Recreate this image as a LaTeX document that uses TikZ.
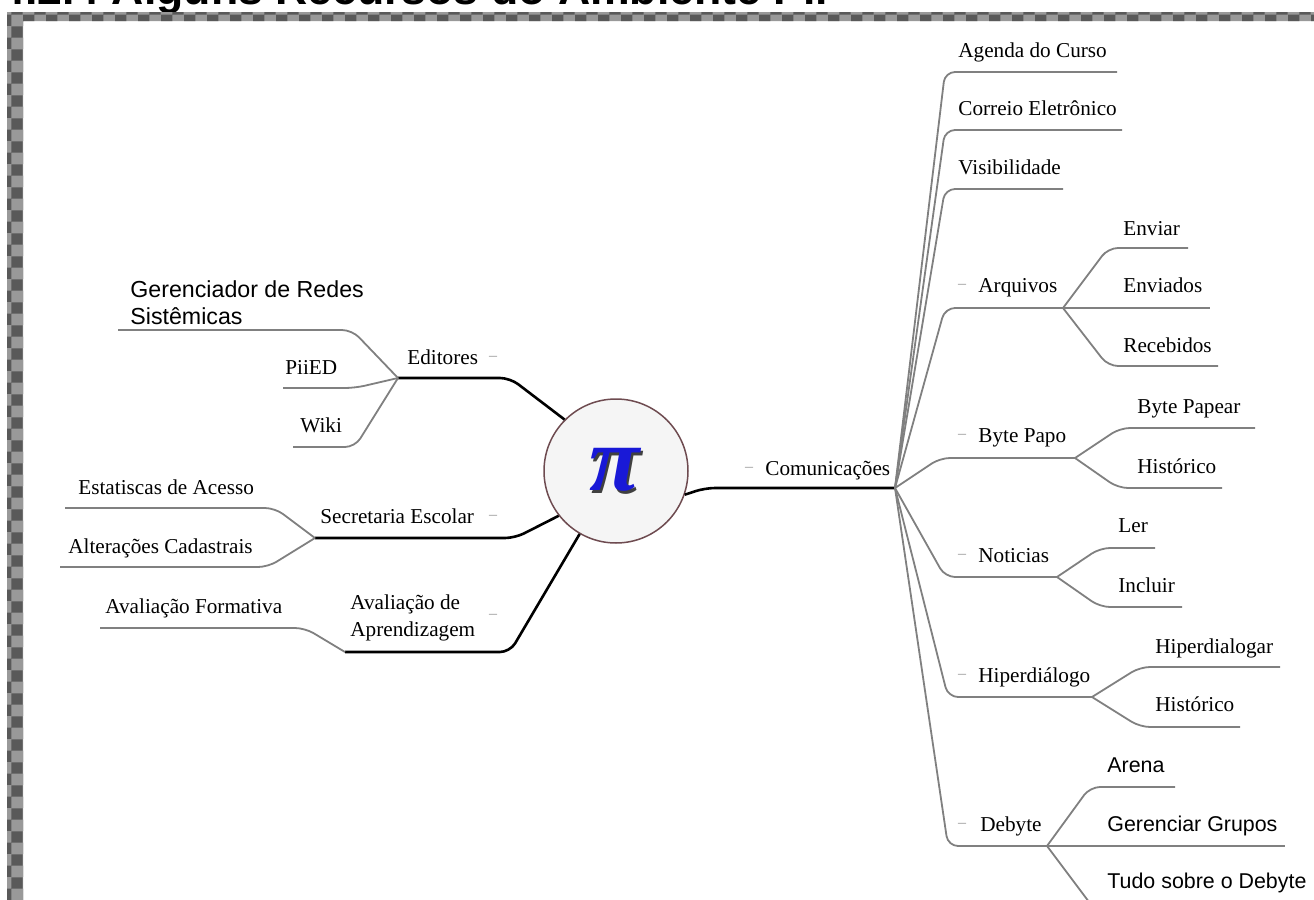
\documentclass[tikz,border=0pt]{standalone}
\usepackage{fontspec}
\setmainfont{Liberation Serif}
\newfontfamily\uisans{Liberation Sans}
\usetikzlibrary{patterns}
\definecolor{piblue}{RGB}{25,25,215}
\definecolor{piborder}{RGB}{110,75,80}
\tikzset{
	x=0.5pt, y=-0.5pt, % one unit is one pixel of the screen shot, y runs down
	mainbranch/.style={line width=1.3pt, black, rounded corners=5pt}, % thick branches at the centre
	subbranch/.style={line width=0.9pt, black!50, rounded corners=5pt}, % thin grey branches
	item/.style={inner sep=0pt, anchor=base west, font=\fontsize{10.6}{13.5}\selectfont}, % serif labels
	sansitem/.style={item, font=\uisans\fontsize{10.7}{13.5}\selectfont}, % the few sans labels
	collapse/.style={inner sep=0pt, anchor=base, yshift=1.8pt, text=gray!80, font=\fontsize{8}{8}\selectfont}, % the little minus signs
	pisign/.style={inner sep=0pt, font=\bfseries\itshape\fontsize{46}{46}\selectfont}, % the big pi
}

\begin{document}
\begin{tikzpicture}
	\useasboundingbox (0,0) rectangle (1314,900);
	\clip (0,0) rectangle (1314,900);

	% title, cut off at the top, and the checkered frame
	\node[inner sep=0pt, anchor=base west, font=\uisans\bfseries\fontsize{22.3}{24}\selectfont] (title) at (0,4) {4.2.4 Alguns Recursos do Ambiente Pii};
	\fill[black!40] (7,12) rectangle (1314,21) (7,21) rectangle (23,900);
	\fill[pattern=checkerboard, pattern color=black!65] (7,12) rectangle (1314,21) (7,21) rectangle (23,900);

	% centre
	\node[circle, draw=piborder, line width=0.75pt, fill=gray!8, minimum size=72pt] (centre) at (616,471) {};
	\node[pisign, text=black!75] (pishadow) at (617,473) {π};
	\node[pisign, text=piblue] (pisym) at (615,470) {π};

	% junctions
	\coordinate (ed) at (398,378);
	\coordinate (se) at (315,538);
	\coordinate (av) at (345,652);
	\coordinate (co) at (895,488);
	\coordinate (arqj) at (1063,308);
	\coordinate (bpj) at (1075,458);
	\coordinate (ntj) at (1057,577);
	\coordinate (hpj) at (1092,697);
	\coordinate (dbj) at (1047,846);

	% left side
	\draw[mainbranch] (centre.135) -- (510,378) -- (ed);
	\draw[mainbranch] (centre.218) -- (515,538) -- (se);
	\draw[mainbranch] (centre.240) -- (510,652) -- (av);
	\draw[subbranch] (ed) -- (352,330) -- (118,330);
	\draw[subbranch] (ed) -- (355,388) -- (283,388);
	\draw[subbranch] (ed) -- (355,447) -- (293,447);
	\draw[subbranch] (se) -- (275,508) -- (65,508);
	\draw[subbranch] (se) -- (268,567) -- (60,567);
	\draw[subbranch] (av) -- (305,628) -- (100,628);

	\node[sansitem, anchor=north west, align=left, font=\uisans\fontsize{11.6}{13.5}\selectfont] (ger) at (130,280) {Gerenciador de Redes\\Sistêmicas};
	\node[item] (editores) at (407,364) {Editores};
	\node[collapse] (m1) at (493,364) {--};
	\node[item] (piied) at (285,374) {PiiED};
	\node[item] (wiki) at (300,432) {Wiki};
	\node[item] (secr) at (320,523) {Secretaria Escolar};
	\node[collapse] (m2) at (493,523) {--};
	\node[item] (estat) at (78,494) {Estatiscas de Acesso};
	\node[item] (alter) at (68,553) {Alterações Cadastrais};
	\node[item, anchor=north west, align=left] (avap) at (350,594) {Avaliação de\\Aprendizagem};
	\node[collapse] (m3) at (493,622) {--};
	\node[item] (avform) at (105,613) {Avaliação Formativa};

	% right side
	\draw[mainbranch] (centre.-19) -- (705,488) -- (co);
	\draw[subbranch] (co) -- (945,72) -- (1117,72);
	\draw[subbranch] (co) -- (945,130) -- (1122,130);
	\draw[subbranch] (co) -- (945,189) -- (1063,189);
	\draw[subbranch] (co) -- (945,308) -- (arqj);
	\draw[subbranch] (co) -- (940,458) -- (bpj);
	\draw[subbranch] (co) -- (945,577) -- (ntj);
	\draw[subbranch] (co) -- (948,697) -- (hpj);
	\draw[subbranch] (co) -- (948,846) -- (dbj);
	\draw[subbranch] (arqj) -- (1108,248) -- (1188,248);
	\draw[subbranch] (arqj) -- (1210,308);
	\draw[subbranch] (arqj) -- (1108,366) -- (1218,366);
	\draw[subbranch] (bpj) -- (1120,428) -- (1255,428);
	\draw[subbranch] (bpj) -- (1118,488) -- (1222,488);
	\draw[subbranch] (ntj) -- (1100,548) -- (1155,548);
	\draw[subbranch] (ntj) -- (1100,607) -- (1182,607);
	\draw[subbranch] (hpj) -- (1140,667) -- (1280,667);
	\draw[subbranch] (hpj) -- (1140,727) -- (1240,727);
	\draw[subbranch] (dbj) -- (1090,787) -- (1175,787);
	\draw[subbranch] (dbj) -- (1285,846);
	\draw[subbranch] (dbj) -- (1095,910);

	\node[item] (comun) at (765,475) {Comunicações};
	\node[collapse] (m4) at (749,475) {--};
	\node[item] (agenda) at (958,57) {Agenda do Curso};
	\node[item] (correio) at (958,115) {Correio Eletrônico};
	\node[item] (visib) at (958,174) {Visibilidade};
	\node[item] (arq) at (978,292) {Arquivos};
	\node[collapse] (m5) at (962,292) {--};
	\node[item] (enviar) at (1123,235) {Enviar};
	\node[item] (enviados) at (1123,292) {Enviados};
	\node[item] (receb) at (1123,352) {Recebidos};
	\node[item] (byte) at (978,442) {Byte Papo};
	\node[collapse] (m6) at (962,442) {--};
	\node[item] (papear) at (1137,413) {Byte Papear};
	\node[item] (hista) at (1137,473) {Histórico};
	\node[item] (notic) at (978,562) {Noticias};
	\node[collapse] (m7) at (962,562) {--};
	\node[item] (ler) at (1118,532) {Ler};
	\node[item] (incl) at (1118,592) {Incluir};
	\node[item] (hiper) at (978,682) {Hiperdiálogo};
	\node[collapse] (m8) at (962,682) {--};
	\node[item] (hiperd) at (1155,653) {Hiperdialogar};
	\node[item] (histb) at (1155,711) {Histórico};
	\node[item] (debyte) at (980,831) {Debyte};
	\node[collapse] (m9) at (962,831) {--};
	\node[sansitem] (arena) at (1107,772) {Arena};
	\node[sansitem] (gergr) at (1107,831) {Gerenciar Grupos};
	\node[sansitem] (tudo) at (1107,888) {Tudo sobre o Debyte};
\end{tikzpicture}
\end{document}
